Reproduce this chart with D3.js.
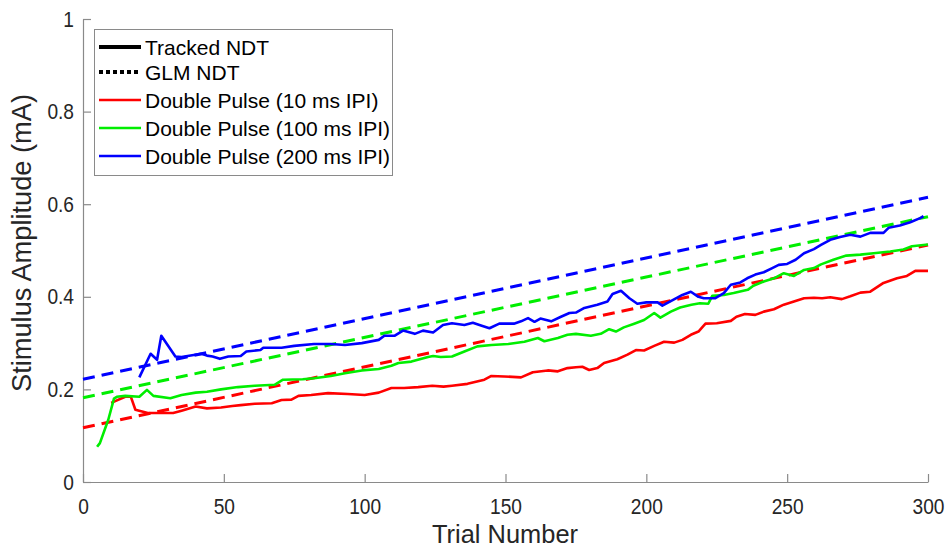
<!DOCTYPE html>
<html>
<head>
<meta charset="utf-8">
<script src="https://cdn.jsdelivr.net/npm/d3@7/dist/d3.min.js"></script>
<style>
  html, body { margin: 0; padding: 0; background: #fff; }
  svg { display: block; font-family: "Liberation Sans", Arial, Helvetica, sans-serif; }
</style>
</head>
<body>
<svg id="chart" width="948" height="550"></svg>
<script>
// Tracked NDT per trial for each double-pulse condition
const trials10 = [10, 15, 17, 18.6, 23, 32, 35, 40, 44, 49, 53, 56, 61, 67, 70.5, 74, 76.5, 81, 87, 94, 100, 105, 109.5, 114, 119, 124, 128, 131, 136.5, 142.5, 145, 149.5, 155.5, 159.7, 165, 168.6, 172, 175, 177.3, 179.7, 182.6, 185, 189.7, 193.3, 196.3, 199.2, 202.8, 206.3, 209.9, 212.8, 215.8, 218.5, 221, 225, 230, 232, 235, 238.7, 241.7, 245.3, 248.8, 252.4, 256, 259.5, 262.4, 265.3, 269.4, 272.4, 276, 279.5, 284.2, 289, 292.5, 295.5, 300];
const values10 = [0.171, 0.184, 0.184, 0.156, 0.149, 0.149, 0.154, 0.163, 0.159, 0.161, 0.164, 0.166, 0.169, 0.170, 0.177, 0.178, 0.186, 0.188, 0.192, 0.190, 0.188, 0.193, 0.203, 0.203, 0.205, 0.208, 0.206, 0.208, 0.212, 0.221, 0.229, 0.228, 0.226, 0.237, 0.241, 0.239, 0.246, 0.248, 0.249, 0.242, 0.246, 0.257, 0.265, 0.275, 0.285, 0.284, 0.294, 0.303, 0.301, 0.307, 0.318, 0.325, 0.342, 0.343, 0.348, 0.357, 0.363, 0.361, 0.368, 0.373, 0.383, 0.390, 0.397, 0.398, 0.397, 0.399, 0.395, 0.401, 0.409, 0.411, 0.430, 0.440, 0.445, 0.456, 0.456];

const trials100 = [5, 6, 9, 11, 12, 15, 20, 22.7, 25, 31, 35, 40, 44, 49, 55, 61, 68, 71, 78, 82, 88, 93, 99, 105, 109.5, 112, 116.6, 122.5, 124.3, 127, 131, 135.4, 140, 145, 151, 156.7, 161.5, 163.8, 168.6, 172, 175, 180.3, 183.8, 186.8, 189.2, 192, 195.7, 199.2, 202.8, 205, 208.7, 212, 216, 219, 222, 223.4, 227.5, 231, 236, 238, 241.7, 245.3, 248.8, 252.4, 256, 259.5, 262, 266.4, 271, 276, 280.7, 286.6, 291.3, 294.3, 300];
const values100 = [0.076, 0.084, 0.135, 0.180, 0.184, 0.186, 0.184, 0.199, 0.186, 0.181, 0.188, 0.193, 0.195, 0.200, 0.205, 0.208, 0.210, 0.221, 0.222, 0.224, 0.229, 0.235, 0.241, 0.244, 0.251, 0.257, 0.260, 0.270, 0.272, 0.270, 0.271, 0.282, 0.293, 0.296, 0.298, 0.303, 0.311, 0.304, 0.311, 0.318, 0.320, 0.316, 0.320, 0.330, 0.325, 0.334, 0.342, 0.350, 0.365, 0.355, 0.368, 0.377, 0.383, 0.386, 0.385, 0.402, 0.404, 0.408, 0.415, 0.424, 0.433, 0.440, 0.451, 0.445, 0.458, 0.462, 0.470, 0.480, 0.489, 0.491, 0.494, 0.498, 0.502, 0.509, 0.513];

const trials200 = [20, 24, 26.3, 27.8, 32.8, 35, 42, 44, 46, 48.6, 51.6, 56, 58, 63, 64, 70.5, 75, 82, 88, 93, 99, 105, 107, 110.7, 113.6, 117.8, 120.7, 124.3, 127.8, 131, 135.4, 138.4, 141.3, 144.3, 147.8, 153, 155.5, 158, 160.3, 162.4, 166.2, 169.7, 172.7, 175, 178, 182.6, 186.2, 188, 191, 194, 196.8, 200, 204, 205.7, 210, 212.8, 215.8, 218.5, 220.4, 224.5, 227.5, 230, 233.4, 235.8, 238.7, 241.7, 244.7, 247, 250, 253, 256, 259.5, 262, 265.3, 268.8, 272.4, 276, 279.5, 284.2, 286, 290, 293.7, 297.2, 298.4];
const values200 = [0.226, 0.277, 0.264, 0.316, 0.271, 0.270, 0.277, 0.273, 0.271, 0.266, 0.271, 0.272, 0.282, 0.285, 0.290, 0.290, 0.294, 0.298, 0.298, 0.296, 0.300, 0.307, 0.316, 0.316, 0.327, 0.320, 0.327, 0.323, 0.339, 0.343, 0.339, 0.344, 0.338, 0.332, 0.342, 0.342, 0.347, 0.354, 0.346, 0.353, 0.347, 0.357, 0.365, 0.366, 0.376, 0.383, 0.390, 0.406, 0.413, 0.397, 0.385, 0.388, 0.388, 0.381, 0.395, 0.404, 0.411, 0.400, 0.397, 0.397, 0.408, 0.426, 0.431, 0.440, 0.448, 0.453, 0.462, 0.469, 0.471, 0.480, 0.494, 0.503, 0.512, 0.523, 0.529, 0.534, 0.530, 0.538, 0.538, 0.549, 0.554, 0.561, 0.570, 0.574];

// GLM NDT fits: value at trial 0 and at trial 300
const glmTrials = [0, 300];
const glm10 = [0.117, 0.512];
const glm100 = [0.182, 0.573];
const glm200 = [0.222, 0.615];

const seriesNames = ["Double Pulse (10 ms IPI)", "Double Pulse (100 ms IPI)", "Double Pulse (200 ms IPI)"];
const seriesColors = ["#ff0000", "#00ee00", "#0000ff"];
const xTicks = [0, 50, 100, 150, 200, 250, 300];
const yTicks = [0, 0.2, 0.4, 0.6, 0.8, 1];

const svg = d3.select("#chart");
const x = d3.scaleLinear().domain([0, 300]).range([83, 928]);
const y = d3.scaleLinear().domain([0, 1]).range([482, 19]);

const axisColor = "#8a8a8a";
const textColor = "#262626";

// squeeze a text element horizontally by a factor, keeping its glyph height
function condense(sel, factor) {
  sel.each(function () {
    const len = this.getComputedTextLength();
    d3.select(this).attr("textLength", len * factor).attr("lengthAdjust", "spacingAndGlyphs");
  });
}

// axes with inward ticks
const gx = svg.append("g").attr("transform", "translate(0,482)")
  .call(d3.axisBottom(x).tickValues(xTicks).tickFormat(d3.format("d"))
    .tickSizeInner(-8).tickSizeOuter(0).tickPadding(16));
const gy = svg.append("g").attr("transform", "translate(83,0)")
  .call(d3.axisLeft(y).tickValues(yTicks).tickFormat(d => d === 0 || d === 1 ? String(d) : d.toFixed(1))
    .tickSizeInner(-8).tickSizeOuter(0).tickPadding(9));
[gx, gy].forEach(g => {
  g.select(".domain").attr("stroke", axisColor).attr("stroke-width", 1.2);
  g.selectAll(".tick line").attr("stroke", axisColor).attr("stroke-width", 1.2);
  g.selectAll(".tick text").attr("fill", textColor).attr("font-size", 22)
    .attr("font-family", "'Liberation Sans', Arial, sans-serif")
    .call(condense, 0.87);
});

// axis titles
svg.append("text").attr("x", 505).attr("y", 543).attr("text-anchor", "middle")
  .attr("font-size", 26).attr("fill", textColor).text("Trial Number")
  .attr("textLength", 146).attr("lengthAdjust", "spacingAndGlyphs");
svg.append("text").attr("transform", "translate(31,243) rotate(-90)").attr("text-anchor", "middle")
  .attr("font-size", 27).attr("fill", textColor).text("Stimulus Amplitude (mA)")
  .attr("textLength", 298).attr("lengthAdjust", "spacingAndGlyphs");

const line = d3.line().x(d => x(d[0])).y(d => y(d[1]));
const plot = svg.append("g");

// GLM fits (dashed)
[glm10, glm100, glm200].forEach((vals, i) => {
  plot.append("path").datum(glmTrials.map((t, j) => [t, vals[j]]))
    .attr("d", line).attr("fill", "none").attr("stroke", seriesColors[i])
    .attr("stroke-width", 3).attr("stroke-dasharray", "12,7");
});

// tracked NDT (solid)
[[trials10, values10], [trials100, values100], [trials200, values200]].forEach(([ts, vs], i) => {
  plot.append("path").datum(ts.map((t, j) => [t, vs[j]]))
    .attr("d", line).attr("fill", "none").attr("stroke", seriesColors[i])
    .attr("stroke-width", 2.6).attr("stroke-linejoin", "round");
});

// legend
const legend = svg.append("g");
legend.append("rect").attr("x", 94.5).attr("y", 29.5).attr("width", 298).attr("height", 146)
  .attr("fill", "#fff").attr("stroke", "#8a8a8a").attr("stroke-width", 1);
const legendItems = [
  { label: "Tracked NDT", color: "#000", dash: null, width: 4 },
  { label: "GLM NDT", color: "#000", dash: "4,3", width: 4 },
  { label: seriesNames[0], color: seriesColors[0], dash: null, width: 2.6 },
  { label: seriesNames[1], color: seriesColors[1], dash: null, width: 2.6 },
  { label: seriesNames[2], color: seriesColors[2], dash: null, width: 2.6 }
];
const rowY = [47, 72, 100, 128, 156];
legendItems.forEach((item, i) => {
  const ln = legend.append("line").attr("x1", 99).attr("x2", 141).attr("y1", rowY[i]).attr("y2", rowY[i])
    .attr("stroke", item.color).attr("stroke-width", item.width);
  if (item.dash) ln.attr("stroke-dasharray", item.dash);
  legend.append("text").attr("x", 145).attr("y", rowY[i]).attr("dy", "0.36em")
    .attr("font-size", 21).attr("fill", "#000").text(item.label);
});
</script>
</body>
</html>
